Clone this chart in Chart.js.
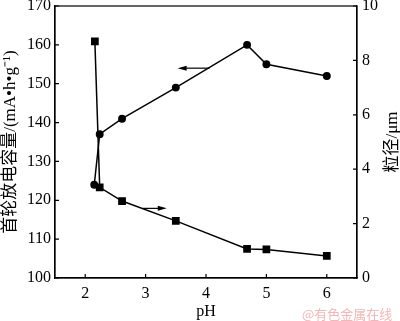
<!DOCTYPE html>
<html><head><meta charset="utf-8">
<script src="https://cdn.jsdelivr.net/npm/chart.js@4"></script>
<style>html,body{margin:0;padding:0;background:#fff}#wrap{width:400px;height:321px}</style>
</head><body><div id="wrap"><canvas id="c" width="400" height="321"></canvas></div>
<script>
// Data
const capPH = [2.15, 2.24, 2.61, 3.5, 4.68, 5.0, 6.0];
const capacity = [124, 137, 141, 149, 160, 155, 152];        // mA·h·g^-1 (left axis)
const sizePH = [2.16, 2.24, 2.61, 3.5, 4.68, 5.0, 6.0];
const particleSize = [8.7, 3.33, 2.83, 2.1, 1.07, 1.05, 0.81]; // μm (right axis)
const xTicks = [2, 3, 4, 5, 6];
const yLeftTicks = [100, 110, 120, 130, 140, 150, 160, 170];
const yRightTicks = [0, 2, 4, 6, 8, 10];
const rightTitle = '粒径/μm';
// arrow annotations (data coordinates): [xFrom, xTo, y, axis]
const arrowLeft = [4.06, 3.53, 154, 'y'];
const arrowRight = [2.95, 3.35, 2.56, 'y1'];

const FONT = "'Liberation Serif', 'Noto Sans CJK SC', serif";

const frame = {
  id: 'frame',
  afterDraw(chart) {
    const ctx = chart.ctx, a = chart.chartArea;
    const sx = chart.scales.x, sy = chart.scales.y, sy1 = chart.scales.y1;
    ctx.save();
    ctx.strokeStyle = '#000'; ctx.lineWidth = 1.2;
    ctx.strokeRect(a.left, a.top, a.right - a.left, a.bottom - a.top);
    ctx.beginPath();
    const L = 4;
    xTicks.forEach(v => { const p = sx.getPixelForValue(v); ctx.moveTo(p, a.bottom); ctx.lineTo(p, a.bottom - L); });
    yLeftTicks.forEach(v => { const p = sy.getPixelForValue(v); ctx.moveTo(a.left, p); ctx.lineTo(a.left + L, p); });
    yRightTicks.forEach(v => { const p = sy1.getPixelForValue(v); ctx.moveTo(a.right, p); ctx.lineTo(a.right - L, p); });
    ctx.stroke();
    // arrows
    [arrowLeft, arrowRight].forEach(ar => {
      const s = chart.scales[ar[3]];
      const x0 = sx.getPixelForValue(ar[0]), x1 = sx.getPixelForValue(ar[1]), y = s.getPixelForValue(ar[2]);
      const dir = Math.sign(x1 - x0);
      ctx.lineWidth = 1.2;
      ctx.beginPath(); ctx.moveTo(x0, y); ctx.lineTo(x1 - dir * 6, y); ctx.stroke();
      ctx.beginPath(); ctx.moveTo(x1, y); ctx.lineTo(x1 - dir * 9, y - 2.5); ctx.lineTo(x1 - dir * 9, y + 2.5); ctx.closePath();
      ctx.fillStyle = '#000'; ctx.fill();
    });
    // right axis title, reading bottom-to-top like the left one
    ctx.save();
    ctx.translate(393, (a.top + a.bottom) / 2);
    ctx.rotate(-Math.PI / 2);
    ctx.fillStyle = '#000';
    ctx.font = "17px " + FONT;
    ctx.textAlign = 'center'; ctx.textBaseline = 'middle';
    ctx.fillText(rightTitle, 0, 0);
    ctx.restore();
    // watermark
    ctx.fillStyle = '#f4b6b6';
    ctx.font = "13px 'Noto Sans CJK SC'";
    ctx.textAlign = 'left'; ctx.textBaseline = 'middle';
    ctx.fillText('@有色金属在线', 302, 314);
    ctx.restore();
  }
};

function fixY(w) { return s => { s.width = w; s.paddingTop = 0; s.paddingBottom = 0; }; }

new Chart(document.getElementById('c'), {
  type: 'scatter',
  data: {
    datasets: [
      { label: 'capacity', data: capPH.map((x, i) => ({ x, y: capacity[i] })), yAxisID: 'y',
        showLine: true, borderColor: '#000', backgroundColor: '#000', borderWidth: 1.5,
        pointStyle: 'circle', pointRadius: 3.2, pointHoverRadius: 3.2 },
      { label: 'size', data: sizePH.map((x, i) => ({ x, y: particleSize[i] })), yAxisID: 'y1',
        showLine: true, borderColor: '#000', backgroundColor: '#000', borderWidth: 1.5,
        pointStyle: 'rect', pointRadius: 4.4, pointHoverRadius: 4.4 }
    ]
  },
  options: {
    responsive: false, animation: false, devicePixelRatio: 1,
    layout: { padding: { top: 6, left: 0, right: 0, bottom: 0 } },
    plugins: { legend: { display: false }, tooltip: { enabled: false } },
    scales: {
      x: {
        type: 'linear', min: 1.5, max: 6.5,
        afterBuildTicks: s => { s.ticks = xTicks.map(v => ({ value: v })); },
        afterFit: s => { s.height = 43; s.paddingLeft = 0; s.paddingRight = 0; },
        grid: { display: false, drawTicks: false },
        border: { display: true, color: '#000', width: 1.2 },
        ticks: { color: '#000', font: { family: FONT, size: 16 }, padding: 6, maxRotation: 0 },
        title: { display: true, text: 'pH', color: '#000', font: { family: FONT, size: 16 }, padding: { top: 0, bottom: 0 } }
      },
      y: {
        type: 'linear', position: 'left', min: 100, max: 170,
        afterBuildTicks: s => { s.ticks = yLeftTicks.map(v => ({ value: v })); },
        afterFit: fixY(55),
        grid: { display: false, drawTicks: false },
        border: { display: true, color: '#000', width: 1.2 },
        ticks: { color: '#000', font: { family: FONT, size: 16 }, padding: 4 },
        title: { display: true, text: '首轮放电容量/(mA•h•g⁻¹)', color: '#000', font: { family: FONT, size: 17 }, padding: { top: 0, bottom: 0 } }
      },
      y1: {
        type: 'linear', position: 'right', min: 0, max: 10,
        afterBuildTicks: s => { s.ticks = yRightTicks.map(v => ({ value: v })); },
        afterFit: fixY(43),
        grid: { display: false, drawTicks: false },
        border: { display: true, color: '#000', width: 1.2 },
        ticks: { color: '#000', font: { family: FONT, size: 16 }, padding: 5 },
        title: { display: false }
      }
    }
  },
  plugins: [frame]
});
</script></body></html>
